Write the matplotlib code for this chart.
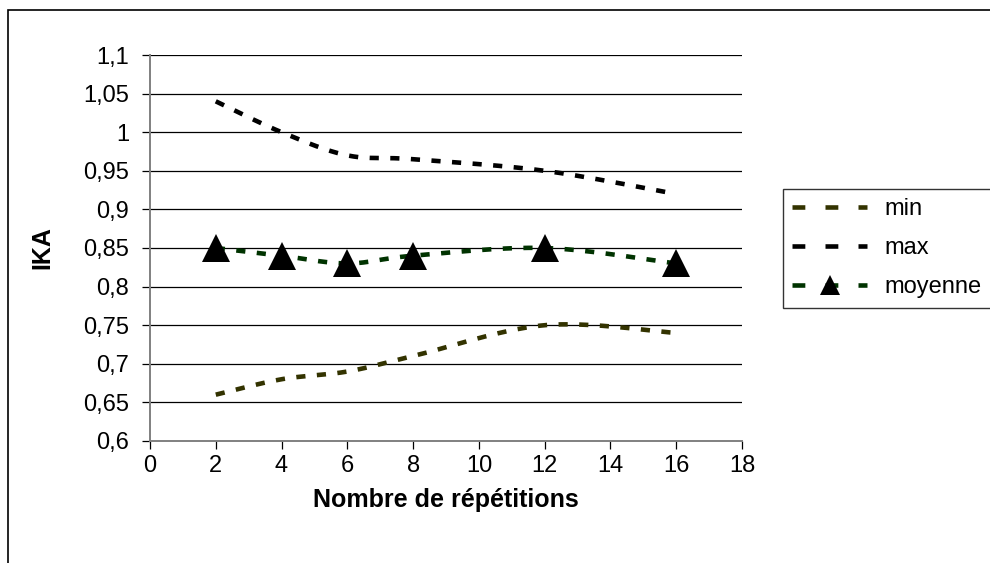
import matplotlib
matplotlib.use('Agg')
import matplotlib.pyplot as plt
from matplotlib.lines import Line2D
from matplotlib.patches import Rectangle
from matplotlib.ticker import FuncFormatter, MultipleLocator
import numpy as np

plt.rcParams['font.family'] = ['Liberation Sans', 'DejaVu Sans']

# -------------------------------
# Data
# -------------------------------
repetitions = [2, 4, 6, 8, 12, 16]
ika_min = [0.66, 0.68, 0.69, 0.71, 0.75, 0.74]
ika_max = [1.04, 1.0, 0.97, 0.965, 0.95, 0.92]
ika_moyenne = [0.85, 0.84, 0.83, 0.84, 0.85, 0.83]

series_names = ['min', 'max', 'moyenne']
series_colors = ['#333300', '#000000', '#003300']


# -------------------------------
# Excel-like smoothed line (Catmull-Rom Bezier)
# -------------------------------
def smooth(x, y, n=60):
    p = np.column_stack([x, y]).astype(float)
    p = np.vstack([p[0], p, p[-1]])
    out = []
    t = np.linspace(0, 1, n)[:, None]
    for i in range(1, len(p) - 2):
        p0, p1, p2, p3 = p[i - 1], p[i], p[i + 1], p[i + 2]
        c1 = p1 + (p2 - p0) / 6
        c2 = p2 - (p3 - p1) / 6
        seg = ((1 - t) ** 3) * p1 + 3 * ((1 - t) ** 2) * t * c1 \
            + 3 * (1 - t) * t ** 2 * c2 + t ** 3 * p2
        out.append(seg if i == 1 else seg[1:])
    out = np.vstack(out)
    return out[:, 0], out[:, 1]


fig = plt.figure(figsize=(9.9, 5.63), dpi=100)
ax = fig.add_axes([150 / 990, 1 - 441 / 563, (742 - 150) / 990, (441 - 55) / 563])

# outer chart border
fig.patches.append(Rectangle((8 / 990, -0.1), 1.1, 1 - 10 / 563 + 0.1,
                             transform=fig.transFigure, fill=False,
                             edgecolor='black', linewidth=1.2))

fs = 17
fs_title = 18
lw = 3.3
dash = (2.0, 2.5)
for vals, color in zip([ika_min, ika_max, ika_moyenne], series_colors):
    sx, sy = smooth(repetitions, vals)
    ax.plot(sx, sy, color=color, linewidth=lw, dashes=dash,
            solid_capstyle='butt', dash_capstyle='butt', zorder=3)

ax.plot(repetitions, ika_moyenne, linestyle='none', marker='^',
        markersize=20, color='black', markeredgewidth=0, zorder=4)

# -------------------------------
# Axes styling
# -------------------------------
ax.set_xlim(0, 18)
ax.set_ylim(0.6, 1.1)
ax.xaxis.set_major_locator(MultipleLocator(2))
ax.yaxis.set_major_locator(MultipleLocator(0.05))
ax.yaxis.set_major_formatter(FuncFormatter(lambda v, pos: f"{round(v, 2):g}".replace('.', ',')))

for y in np.arange(0.65, 1.1001, 0.05):
    ax.axhline(y, color='black', linewidth=0.9, zorder=1)

for side in ['top', 'right']:
    ax.spines[side].set_visible(False)
for side in ['left', 'bottom']:
    ax.spines[side].set_color('#808080')
    ax.spines[side].set_linewidth(1.4)

ax.tick_params(axis='both', direction='out', length=6, width=0.9,
               color='black', labelsize=fs)
ax.tick_params(axis='y', pad=9)
ax.tick_params(axis='x', pad=4)

ax.set_xlabel('Nombre de répétitions', fontsize=fs_title, fontweight='bold', labelpad=8)
ax.set_ylabel('IKA', fontsize=fs_title, fontweight='bold', labelpad=21)

# -------------------------------
# Legend
# -------------------------------
leg_dash = (2.8, 4.4)
handles = [
    Line2D([], [], color=series_colors[0], linewidth=lw, dashes=leg_dash,
           dash_capstyle='butt'),
    Line2D([], [], color=series_colors[1], linewidth=lw, dashes=leg_dash,
           dash_capstyle='butt'),
    Line2D([], [], color=series_colors[2], linewidth=lw, dashes=leg_dash,
           dash_capstyle='butt', marker='^', markersize=15,
           markerfacecolor='black', markeredgewidth=0),
]
leg = fig.legend(handles, series_names, loc='upper left',
                 bbox_to_anchor=(783 / 990, 1 - 189 / 563),
                 fontsize=fs, frameon=True, fancybox=False, numpoints=1,
                 handlelength=3.14, handletextpad=0.76, labelspacing=0.72,
                 borderpad=0.4, borderaxespad=0)
leg.get_frame().set_edgecolor('black')
leg.get_frame().set_linewidth(1.0)

fig.savefig('out.png', dpi=100)
